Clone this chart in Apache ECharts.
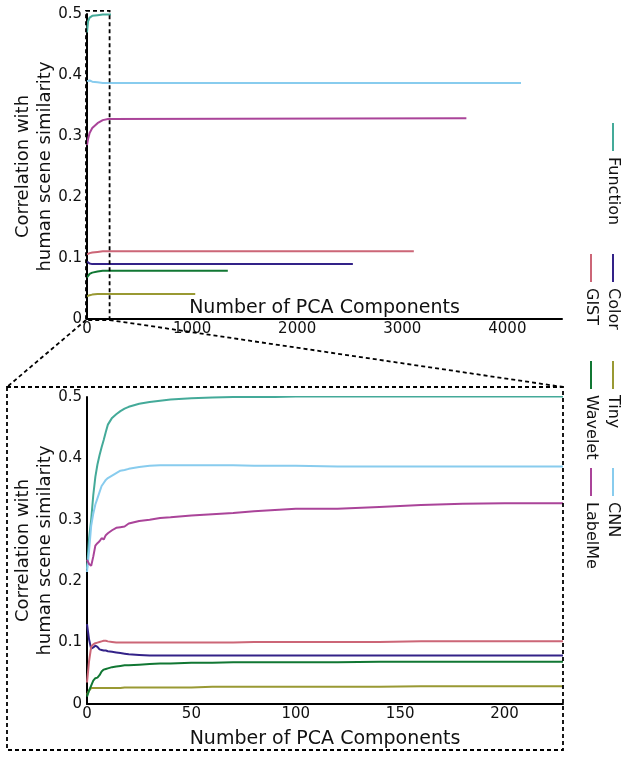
<!DOCTYPE html>
<html><head><meta charset="utf-8">
<script src="https://cdn.jsdelivr.net/npm/echarts@6/dist/echarts.min.js"></script>
<style>html,body{margin:0;padding:0;background:#fff}#c{width:629px;height:758px}</style>
</head><body><div id="c"></div>
<script>
// ---------- DATA ----------
const seriesNames = ['Function', 'Color', 'GIST', 'Tiny', 'Wavelet', 'CNN', 'LabelMe'];
const seriesColors = ['#44AA99', '#332288', '#CC6677', '#999933', '#117733', '#88CCEE', '#AA4499'];

// Overview chart (all PCA components)
const topComponents = [0, 10, 25, 50, 100, 150, 200];
const topFunction = [0.470, 0.488, 0.494, 0.497, 0.498, 0.499, 0.499];
const topColor    = [0.094, 0.092, 0.091, 0.090, 0.090, 0.090, 0.090];
const topGIST     = [0.106, 0.107, 0.108, 0.109, 0.110, 0.111, 0.111];
const topTiny     = [0.037, 0.038, 0.039, 0.040, 0.041, 0.041, 0.041];
const topWavelet  = [0.068, 0.071, 0.074, 0.076, 0.078, 0.079, 0.079];
const topCNN      = [0.390, 0.392, 0.391, 0.389, 0.388, 0.387, 0.387];
const topLabelMe  = [0.285, 0.295, 0.305, 0.313, 0.321, 0.326, 0.328];
// last component count of each feature and its value there
const topEndComponents = [228, 2530, 3110, 1030, 1340, 4130, 3610];
const topEndValues     = [0.499, 0.090, 0.111, 0.041, 0.079, 0.387, 0.329];

// Zoomed chart (first components)
const fineComponents = [0,1,2,3,4,5,6,7,8,9,10,12,14,16,18,20,25,30,35,40,50,60,70,80,90,100,120,140,160,180,200,228];
const fineFunction = [0.220,0.270,0.300,0.340,0.370,0.390,0.405,0.418,0.430,0.443,0.455,0.466,0.472,0.477,0.481,0.484,0.489,0.492,0.494,0.496,0.498,0.499,0.500,0.500,0.500,0.501,0.501,0.501,0.501,0.501,0.501,0.501];
const fineColor    = [0.130,0.105,0.090,0.092,0.095,0.093,0.089,0.088,0.087,0.087,0.086,0.085,0.084,0.083,0.082,0.081,0.080,0.079,0.079,0.079,0.079,0.079,0.079,0.079,0.079,0.079,0.079,0.079,0.079,0.079,0.079,0.079];
const fineGIST     = [0.035,0.070,0.093,0.097,0.099,0.100,0.101,0.102,0.103,0.103,0.102,0.101,0.100,0.100,0.100,0.100,0.100,0.100,0.100,0.100,0.100,0.100,0.100,0.101,0.101,0.101,0.101,0.101,0.102,0.102,0.102,0.102];
const fineTiny     = [0.015,0.022,0.026,0.026,0.026,0.026,0.026,0.026,0.026,0.026,0.026,0.026,0.026,0.026,0.027,0.027,0.027,0.027,0.027,0.027,0.027,0.028,0.028,0.028,0.028,0.028,0.028,0.028,0.029,0.029,0.029,0.029];
const fineWavelet  = [0.012,0.022,0.030,0.038,0.042,0.043,0.047,0.053,0.056,0.057,0.058,0.060,0.061,0.062,0.063,0.063,0.064,0.065,0.066,0.066,0.067,0.067,0.068,0.068,0.068,0.068,0.068,0.069,0.069,0.069,0.069,0.069];
const fineCNN      = [0.215,0.250,0.290,0.310,0.325,0.335,0.345,0.355,0.360,0.365,0.368,0.372,0.376,0.380,0.381,0.383,0.386,0.388,0.389,0.389,0.389,0.389,0.389,0.388,0.388,0.388,0.387,0.387,0.387,0.387,0.387,0.387];
const fineLabelMe  = [0.235,0.228,0.225,0.240,0.258,0.262,0.265,0.270,0.268,0.275,0.278,0.283,0.287,0.288,0.289,0.294,0.298,0.300,0.303,0.304,0.307,0.309,0.311,0.314,0.316,0.318,0.318,0.321,0.324,0.326,0.327,0.327];

const topTicksX = [0, 1000, 2000, 3000, 4000];
const fineTicksX = [0, 50, 100, 150, 200];
const yTicks = [0, 0.1, 0.2, 0.3, 0.4, 0.5];
const zoomRegion = [215, 0.505]; // components, correlation covered by the dashed box

const topValues = [topFunction, topColor, topGIST, topTiny, topWavelet, topCNN, topLabelMe];
const fineValues = [fineFunction, fineColor, fineGIST, fineTiny, fineWavelet, fineCNN, fineLabelMe];

// ---------- CHART ----------
const FONT = 'DejaVu Sans';
const chart = echarts.init(document.getElementById('c'), null, {renderer: 'canvas'});

const xLabelFmt = v => String(Math.round(v));
const yLabelFmt = v => (v === 0 ? '0' : String(Math.round(v * 10) / 10));

function axisCommon(fmt, nameSize) {
  return {
    axisLine: {show: true, onZero: false, lineStyle: {color: '#000', width: 2}},
    axisTick: {show: false},
    splitLine: {show: false},
    nameMoveOverlap: false,
    axisLabel: {color: '#111', fontSize: 15, fontFamily: FONT, formatter: fmt},
    nameTextStyle: {color: '#111', fontSize: nameSize, fontFamily: FONT, lineHeight: 22}
  };
}

const series = [];
seriesNames.forEach((name, i) => {
  const topData = topComponents.map((c, k) => [c, topValues[i][k]]);
  topData.push([topEndComponents[i], topEndValues[i]]);
  series.push({
    name, type: 'line', xAxisIndex: 0, yAxisIndex: 0, data: topData,
    showSymbol: false, lineStyle: {color: seriesColors[i], width: 2}, itemStyle: {color: seriesColors[i]}
  });
  series.push({
    name, type: 'line', xAxisIndex: 1, yAxisIndex: 1,
    data: fineComponents.map((c, k) => [c, fineValues[i][k]]),
    showSymbol: false, lineStyle: {color: seriesColors[i], width: 2}, itemStyle: {color: seriesColors[i]}
  });
});

function xAxisDef(gridIndex, max, ticks, nameGap) {
  const a = axisCommon(xLabelFmt, 19);
  a.axisLabel.margin = 3;
  a.axisLabel.showMaxLabel = false;
  return Object.assign(a, {
    type: 'value', gridIndex, min: 0, max, interval: ticks[1] - ticks[0],
    name: 'Number of PCA Components', nameLocation: 'middle', nameGap
  });
}
function yAxisDef(gridIndex) {
  const a = axisCommon(yLabelFmt, 18);
  a.axisLabel.margin = 5;
  return Object.assign(a, {
    type: 'value', gridIndex, min: 0, max: 0.5, interval: Math.round((yTicks[1] - yTicks[0]) * 10) / 10,
    name: 'Correlation with\nhuman scene similarity', nameLocation: 'middle', nameGap: 31
  });
}

chart.setOption({
  animation: false,
  backgroundColor: '#fff',
  grid: [
    {left: 87, top: 14, width: 475, height: 305, containLabel: false, outerBoundsMode: 'none'},
    {left: 87, top: 397, width: 476, height: 307, containLabel: false, outerBoundsMode: 'none'}
  ],
  xAxis: [xAxisDef(0, 4520, topTicksX, -22), xAxisDef(1, 228, fineTicksX, 24)],
  yAxis: [yAxisDef(0), yAxisDef(1)],
  series
});

// ---------- annotations ----------
const dash = {stroke: '#000', lineWidth: 1.8, lineDash: [4, 3], fill: null};
const pBoxTL = chart.convertToPixel({gridIndex: 0}, [0, zoomRegion[1]]);
const pBoxBR = chart.convertToPixel({gridIndex: 0}, [zoomRegion[0], 0]);
const boxL = pBoxTL[0] - 1, boxT = pBoxTL[1], boxR = pBoxBR[0], boxB = pBoxBR[1] + 1;
const pFineTR = chart.convertToPixel({gridIndex: 1}, [228, 0.5]);
const frameL = 7, frameT = pFineTR[1] - 10, frameR = pFineTR[0], frameB = 750;

const graphics = [
  {type: 'rect', shape: {x: boxL, y: boxT, width: boxR - boxL, height: boxB - boxT}, style: dash, z: 100},
  {type: 'rect', shape: {x: frameL, y: frameT, width: frameR - frameL, height: frameB - frameT}, style: dash, z: 100},
  {type: 'line', shape: {x1: boxL, y1: boxB, x2: frameL, y2: frameT}, style: dash, z: 100},
  {type: 'line', shape: {x1: boxR, y1: boxB, x2: frameR, y2: frameT}, style: dash, z: 100}
];

// rotated legend
const legendCols = [613, 613, 591, 613, 591, 613, 591];
const legendRows = [123, 254, 254, 361, 361, 468, 468];
seriesNames.forEach((name, i) => {
  const x = legendCols[i], y = legendRows[i];
  graphics.push({type: 'line', shape: {x1: x, y1: y, x2: x, y2: y + 28}, style: {stroke: seriesColors[i], lineWidth: 2}});
  graphics.push({type: 'text', x: x, y: y + 34, rotation: -Math.PI / 2,
    style: {text: name, fill: '#111', fontSize: 16, fontFamily: FONT, align: 'left', verticalAlign: 'middle'}});
});
chart.setOption({graphic: graphics});
</script></body></html>
